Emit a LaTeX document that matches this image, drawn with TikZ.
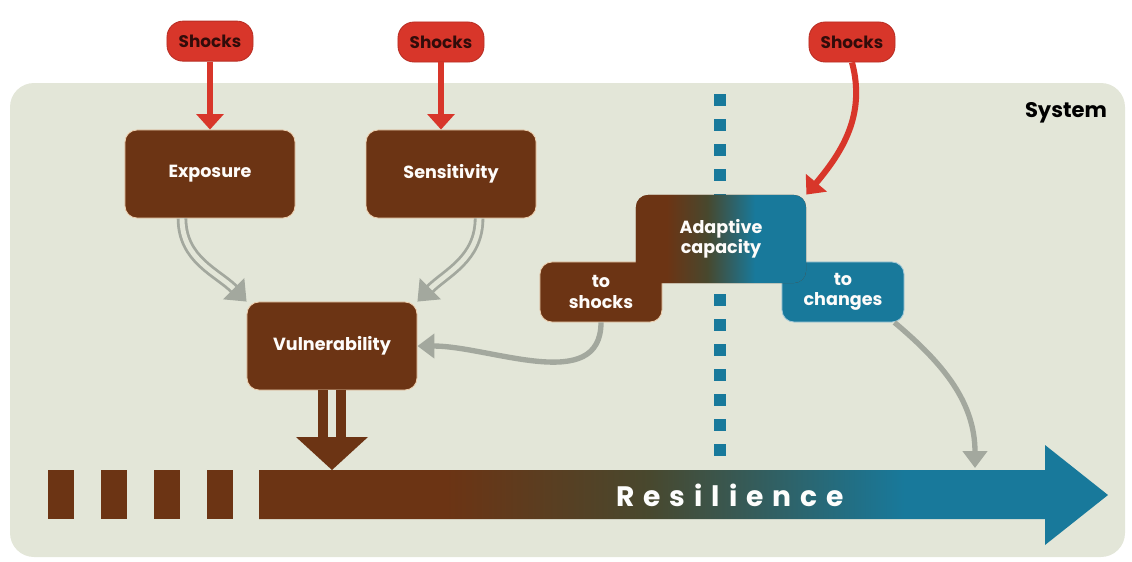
\documentclass[tikz,border=0pt]{standalone}
\usepackage{fontspec}
\setmainfont{Poppins}
\newfontfamily\resilfont[LetterSpace=32]{Poppins}
\usetikzlibrary{arrows.meta, shapes, calc, positioning}
\definecolor{panel}{RGB}{227,230,216}
\definecolor{brn}{RGB}{108,52,20}
\definecolor{blu}{RGB}{24,121,155}
\definecolor{mid}{RGB}{72,72,46}
\definecolor{shockred}{RGB}{216,54,42}
\definecolor{shocktext}{RGB}{50,12,10}
\definecolor{arrgrey}{RGB}{163,168,158}
\definecolor{rim}{RGB}{238,208,176}
\pgfdeclarehorizontalshading{brn2blu}{100bp}{color(0bp)=(brn); color(34bp)=(brn); color(46bp)=(mid); color(60bp)=(blu); color(100bp)=(blu)}
\pgfdeclarehorizontalshading{resilshade}{100bp}{color(0bp)=(brn); color(36bp)=(brn); color(48bp)=(mid); color(63bp)=(blu); color(100bp)=(blu)}
\tikzset{
		shock/.style={draw=shockred!85!black, line width=0.6pt, fill=shockred, rounded corners=0.4cm,
			minimum width=2.15cm, minimum height=1cm, text=shocktext, font=\bfseries\fontsize{12}{14}\selectfont},
		box/.style={draw=rim, line width=0.6pt, fill=brn, rounded corners=0.3cm, minimum width=4.25cm,
			minimum height=2.2cm, text=white!94!rim, align=center, font=\bfseries\fontsize{12.5}{14.5}\selectfont},
		smallbox/.style={box, minimum width=3.05cm, minimum height=1.5cm},
		shockarrow/.style={shockred, line width=4.3pt, -{Triangle[width=19pt,length=11pt]}},
		feed/.style={arrgrey, line width=3.8pt, -{Triangle[width=17pt,length=12pt]}},
		twin/.style={arrgrey, line width=2pt, double=panel, double distance=3.5pt, -{Triangle[width=21pt,length=13pt]}}
	}
\begin{document}
\begin{tikzpicture}[x=0.025cm, y=-0.025cm, node distance=6.025cm]
				\useasboundingbox (0,0) rectangle (1132,561);
				\fill[panel, rounded corners=0.6cm] (10,83) rectangle (1125,557);
				\foreach \k in {0,...,14}
					\fill[blu] (714,{94+25*\k}) rectangle ++(12,12);

				\node[box]                            (expo)   at (210,174) {Exposure};
				\node[box, right of = expo]            (sens)              {Sensitivity};
				\node[box]                            (vuln)   at (332,346) {Vulnerability};
				\node[smallbox]                       (toshock)  at (601,292) {to\\shocks};
				\node[smallbox, fill=blu, draw=blu!40!white] (tochange) at (843,292) {to\\changes};
				\node[box, draw=none, shading=brn2blu] (adapt) at (721,239) {Adaptive\\capacity};

				\node[shock, above = 1.7cm of expo]    (shock1)            {Shocks};
				\node[shock]                          (shock2) at (441,42) {Shocks};
				\node[shock]                          (shock3) at (852,42) {Shocks};
				\node[font=\bfseries\fontsize{15}{17}\selectfont] (system) at (1066,113) {System};

				\foreach \x in {48,101,154,207}
					\fill[brn] (\x,470) rectangle ++(26,49);
				\shade[shading=resilshade] (259,470) -- (1045,470) -- (1045,445) -- (1108,495)
					-- (1045,545) -- (1045,519) -- (259,519) -- cycle;
				\node[text=white!92!panel, font=\resilfont\bfseries\fontsize{20}{24}\selectfont] (resil) at (730,495) {Resilience};
				\coordinate (vtip) at (332,470);
				\coordinate (cin)  at (975,468);

				\draw[brn, line width=7pt, double=panel, double distance=5.5pt] (vuln.south) -- (vuln.south |- 0,440);
				\fill[brn] (vtip) -- ++(-36,-33) -- ++(72,0) -- cycle;

				\draw[shockarrow] (shock1.south) -- (shock1.south |- expo.north);
				\draw[shockarrow] (shock2.south) -- (shock2.south |- sens.north);
				\draw[shockarrow] (shock3.south) to[out=-75, in=50] (adapt.north east);

				\draw[twin] ($(expo.south)+(-28,0)$) to[out=-90, in=135] (vuln.north west);
				\draw[twin] ($(sens.south)+(28,0)$)  to[out=-90, in=45]  (vuln.north east);
				\draw[feed] (toshock.south) to[out=-90, in=0] (vuln.east);
				\draw[feed] ($(tochange.south east)+(-10,0)$) to[out=-40, in=90] (cin);
			\end{tikzpicture}
\end{document}
